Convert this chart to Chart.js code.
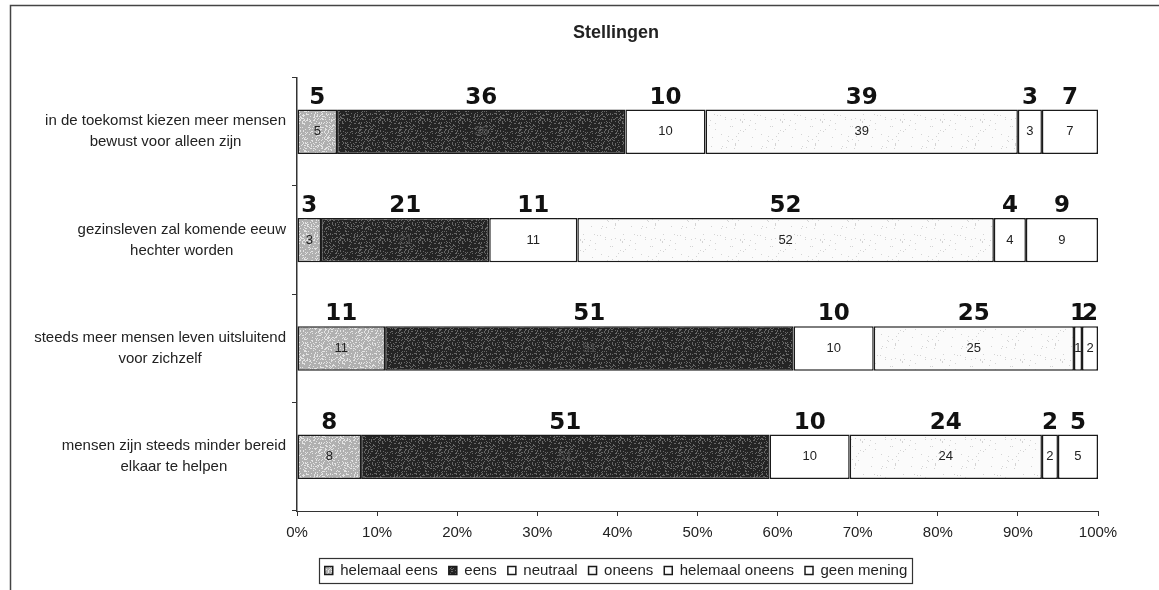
<!DOCTYPE html>
<html>
<head>
<meta charset="utf-8">
<script src="https://cdn.jsdelivr.net/npm/chart.js@4.4.1/dist/chart.umd.min.js"></script>
<style>
  html, body { margin: 0; padding: 0; background: #fff; }
  #wrap { width: 1159px; height: 590px; }
</style>
</head>
<body>
<div id="wrap"><canvas id="myChart"></canvas></div>
<script>
// stellingen, percentages per antwoord
const categories = [
    ['in de toekomst kiezen meer mensen', 'bewust voor alleen zijn'],
    ['gezinsleven zal komende eeuw', 'hechter worden'],
    ['steeds meer mensen leven uitsluitend', 'voor zichzelf'],
    ['mensen zijn steeds minder bereid', 'elkaar te helpen']
];
const seriesNames = ['helemaal eens', 'eens', 'neutraal', 'oneens', 'helemaal oneens', 'geen mening'];
const helemaalEens = [5, 3, 11, 8];
const eens = [36, 21, 51, 51];
const neutraal = [10, 11, 10, 10];
const oneens = [39, 52, 25, 24];
const helemaalOneens = [3, 4, 1, 2];
const geenMening = [7, 9, 2, 5];
const xTicks = [0, 10, 20, 30, 40, 50, 60, 70, 80, 90, 100];

const FONT = '"Liberation Sans", Arial, sans-serif';
const ctx = document.querySelector('#myChart').getContext('2d');

// grainy fill like the scanned print
function speckle(base, dot, count) {
    const c = document.createElement('canvas');
    c.width = 40; c.height = 40;
    const g = c.getContext('2d');
    g.fillStyle = base;
    g.fillRect(0, 0, 40, 40);
    g.fillStyle = dot;
    let s = 12345;
    for (let i = 0; i < count; i++) {
        s = (s * 16807) % 2147483647;
        const x = s % 40;
        s = (s * 16807) % 2147483647;
        const y = s % 40;
        g.fillRect(x, y, 1, 1);
    }
    return ctx.createPattern(c, 'repeat');
}

const fills = [
    speckle('#b0b0b0', '#e4e4e4', 420),
    speckle('#242424', '#666666', 380),
    '#ffffff',
    speckle('#fbfbfb', '#d4d4d4', 40),
    '#ffffff',
    '#ffffff'
];
const seriesValues = [helemaalEens, eens, neutraal, oneens, helemaalOneens, geenMening];

const data = {
    labels: categories,
    datasets: seriesNames.map((name, i) => ({
        label: name,
        data: seriesValues[i],
        backgroundColor: fills[i],
        borderColor: '#1a1a1a',
        borderWidth: 1.5,
        borderSkipped: false,
        categoryPercentage: 1,
        barPercentage: 0.41
    }))
};

const frame = {
    id: 'frame',
    beforeDraw: (chart) => {
        const c = chart.ctx;
        c.save();
        c.fillStyle = '#fff';
        c.fillRect(0, 0, chart.width, chart.height);
        c.strokeStyle = '#444';
        c.lineWidth = 1.5;
        c.strokeRect(10.5, 5.5, chart.width + 20, chart.height + 20);
        c.restore();
    },
    afterDraw: (chart) => {
        const c = chart.ctx;
        const area = chart.chartArea;
        const y = chart.scales.y;
        c.save();
        // category labels: block right aligned, lines centred
        c.font = '15px ' + FONT;
        c.fillStyle = '#222';
        c.textAlign = 'center';
        c.textBaseline = 'middle';
        categories.forEach((lines, i) => {
            const yc = y.getPixelForValue(i);
            const w = Math.max(...lines.map(l => c.measureText(l).width));
            const xc = area.left - 11 - w / 2;
            lines.forEach((l, j) => {
                c.fillText(l, xc, yc + (j - (lines.length - 1) / 2) * 21);
            });
        });
        // legend border
        const boxes = chart.legend.legendHitBoxes;
        if (boxes.length) {
            const l = Math.min(...boxes.map(b => b.left)) - 6;
            const r = Math.max(...boxes.map(b => b.left + b.width)) + 5;
            const t = boxes[0].top - 5;
            const h = boxes[0].height + 10;
            c.strokeStyle = '#333';
            c.lineWidth = 1.2;
            c.strokeRect(Math.round(l) + 0.5, Math.round(t) + 0.5, Math.round(r - l), Math.round(h));
        }
        // printed values inside bars and handwritten values above
        chart.data.datasets.forEach((ds, di) => {
            const meta = chart.getDatasetMeta(di);
            meta.data.forEach((bar, bi) => {
                const xc = (bar.x + bar.base) / 2;
                c.font = '13px ' + FONT;
                c.textBaseline = 'middle';
                c.fillStyle = di === 1 ? '#4a4a4a' : '#222';
                c.fillText(String(ds.data[bi]), xc, bar.y);
                c.font = 'bold 23px "DejaVu Sans", sans-serif';
                c.textBaseline = 'alphabetic';
                c.fillStyle = '#111';
                c.fillText(String(ds.data[bi]), xc, bar.y - bar.height / 2 - 6);
            });
        });
        c.restore();
    }
};

const config = {
    type: 'bar',
    data: data,
    options: {
        indexAxis: 'y',
        responsive: true,
        maintainAspectRatio: false,
        animation: false,
        layout: { padding: { left: 134, right: 61, top: 8, bottom: 2 } },
        plugins: {
            title: {
                display: true,
                text: 'Stellingen',
                color: '#222',
                font: { family: FONT, size: 18, weight: 'bold' },
                padding: { top: 14, bottom: 34 }
            },
            legend: {
                position: 'bottom',
                labels: {
                    color: '#222',
                    boxWidth: 8,
                    boxHeight: 8,
                    padding: 11,
                    font: { family: FONT, size: 15 }
                }
            },
            tooltip: { enabled: false }
        },
        scales: {
            x: {
                stacked: true,
                min: 0,
                max: 100,
                afterBuildTicks: (scale) => { scale.ticks = xTicks.map(v => ({ value: v })); },
                afterFit: (scale) => { scale.height = 41; },
                ticks: {
                    color: '#222',
                    padding: 8,
                    font: { family: FONT, size: 15 },
                    callback: (v) => v + '%'
                },
                grid: { drawOnChartArea: false, tickLength: 5, color: '#333' },
                border: { color: '#333', width: 1 }
            },
            y: {
                stacked: true,
                afterFit: (scale) => { scale.width = 163; },
                ticks: { display: false },
                grid: { drawOnChartArea: false, tickLength: 5, color: '#333', offset: true },
                border: { color: '#333', width: 1.5 }
            }
        }
    },
    plugins: [frame]
};

const myChart = new Chart(ctx, config);
</script>
</body>
</html>
